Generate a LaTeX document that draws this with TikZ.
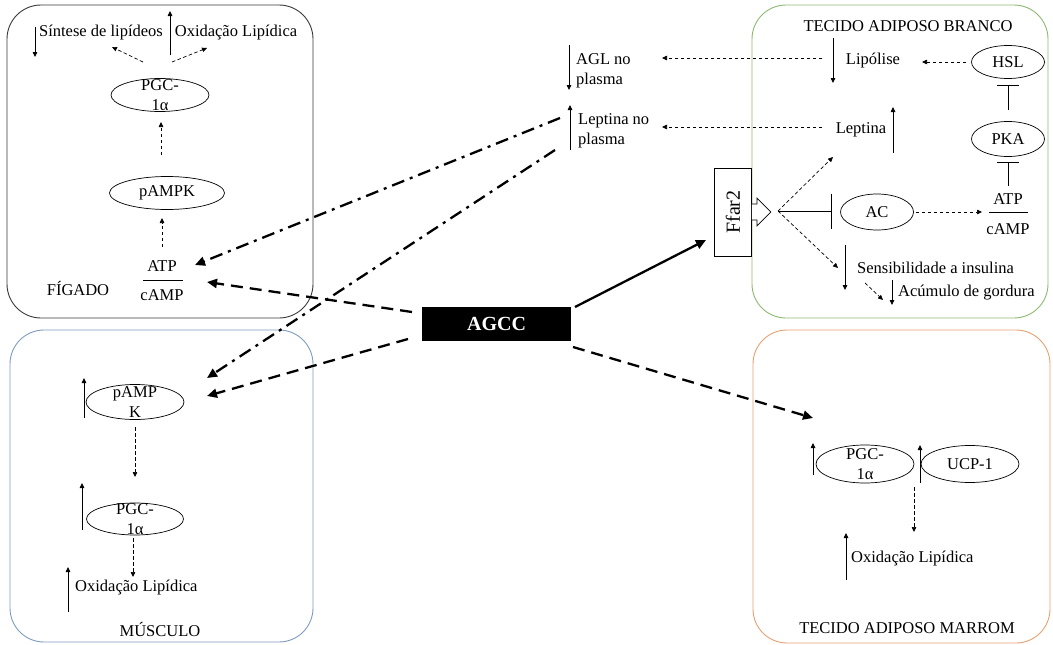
\documentclass[tikz,border=0pt]{standalone}
\usepackage{fontspec}
\setmainfont{Liberation Serif}
\usetikzlibrary{shapes.geometric,arrows.meta}
\definecolor{liverc}{HTML}{3A3A3A}
\definecolor{greenc}{HTML}{8DB870}
\definecolor{bluec}{HTML}{7F9CC0}
\definecolor{orangec}{HTML}{E8A070}
\begin{document}
\begin{tikzpicture}[x=1pt,y=-1pt,
  font=\fontsize{16.5}{20}\selectfont,
  every node/.style={inner sep=1pt},
  organ/.style={draw=#1, line width=0.9pt, rounded corners=34pt, inner sep=0pt},
  ell/.style={ellipse, draw, line width=0.7pt, inner sep=0pt},
  ind/.style={line width=0.8pt, -{Triangle[length=5pt,width=4.5pt]}},
  dsh/.style={line width=0.7pt, dash pattern=on 3.5pt off 2.5pt, -{Triangle[length=5pt,width=4.5pt]}},
  bigdash/.style={line width=2.3pt, dash pattern=on 12pt off 7pt, -{Triangle[length=10pt,width=9pt]}},
  dashdot/.style={line width=2.3pt, dash pattern=on 13pt off 6pt on 3pt off 6pt, -{Triangle[length=10pt,width=9pt]}},
  inhib/.style={line width=0.8pt, -{Bar[width=#1]}},
]
\useasboundingbox (0,0) rectangle (1053,645);

% ---------- organ boxes ----------
\node[organ=liverc, minimum width=306pt, minimum height=313pt] (liver) at (160,161.5) {};
\node[organ=greenc, minimum width=296pt, minimum height=313pt] (wat) at (900,161.5) {};
\node[organ=bluec, minimum width=303pt, minimum height=312pt] (muscle) at (161.5,486) {};
\node[organ=orangec, minimum width=297pt, minimum height=313pt] (bat) at (901.5,486.5) {};

% ---------- liver ----------
\node (sint) at (101,33) {Síntese de lipídeos};
\node (oxL) at (236,33) {Oxidação Lipídica};
\coordinate (sA1) at (35,27); \coordinate (sA2) at (35,57);
\draw[ind] (sA1) -- (sA2);
\coordinate (oA1) at (170,55); \coordinate (oA2) at (170,11);
\draw[ind] (oA1) -- (oA2);
\node[ell, minimum width=98pt, minimum height=33pt] (pgcL) at (160,95) {};
\node[align=center] (pgcLt) at (pgcL) {PGC-\\1α};
\coordinate (pL1) at (143,62); \coordinate (pL2) at (112,47);
\coordinate (pR1) at (172,62); \coordinate (pR2) at (207,48);
\draw[dsh] (pL1) -- (pL2);
\draw[dsh] (pR1) -- (pR2);
\node[ell, minimum width=115pt, minimum height=33pt] (ampkL) at (167,193) {};
\node (ampkLt) at (ampkL) {pAMPK};
\coordinate (aL1) at (161,155); \coordinate (aL2) at (161,122);
\draw[dsh] (aL1) -- (aL2);
\coordinate (tL1) at (162,247); \coordinate (tL2) at (162,218);
\draw[dsh] (tL1) -- (tL2);
\node (atpL) at (162,266) {ATP};
\node (campL) at (162,295) {cAMP};
\coordinate (fL1) at (143,280); \coordinate (fL2) at (183,280);
\draw[line width=0.8pt] (fL1) -- (fL2);
\node (figado) at (78,288) {FÍGADO};

% ---------- plasma ----------
\coordinate (gA1) at (569,45); \coordinate (gA2) at (569,90);
\draw[ind] (gA1) -- (gA2);
\node[align=left, anchor=west] (agl) at (575,71) {AGL no\\plasma};
\coordinate (lA1) at (570,150); \coordinate (lA2) at (570,105);
\draw[ind] (lA1) -- (lA2);
\node[align=left, anchor=west] (lepp) at (577,131) {Leptina no\\plasma};

% ---------- white adipose ----------
\node (watt) at (908,26) {TECIDO ADIPOSO BRANCO};
\coordinate (liA1) at (833,38); \coordinate (liA2) at (833,83);
\draw[ind] (liA1) -- (liA2);
\node (lip) at (873,61) {Lipólise};
\node[ell, minimum width=73pt, minimum height=33pt] (hsl) at (1008,62) {};
\node (hslt) at (hsl) {HSL};
\node[ell, minimum width=73pt, minimum height=35pt] (pka) at (1008,139) {};
\node (pkat) at (pka) {PKA};
\coordinate (hslW) at (966,62); \coordinate (lipE) at (922,62);
\draw[dsh] (hslW) -- (lipE);
\coordinate (ti1) at (1008,110); \coordinate (ti2) at (1008,85);
\draw[inhib=22pt] (ti1) -- (ti2);
\coordinate (ti3) at (1008,186); \coordinate (ti4) at (1008,162);
\draw[inhib=22pt] (ti3) -- (ti4);
\node (atpW) at (1008,199) {ATP};
\node (campW) at (1008,229) {cAMP};
\coordinate (fW1) at (989,212); \coordinate (fW2) at (1028,212);
\draw[line width=0.8pt] (fW1) -- (fW2);
\node (lept) at (861,130) {Leptina};
\coordinate (leA1) at (893,153); \coordinate (leA2) at (893,107);
\draw[ind] (leA1) -- (leA2);
\coordinate (lipL) at (822,58); \coordinate (aglR) at (662,58);
\draw[dsh] (lipL) -- (aglR);
\coordinate (lepL) at (822,127); \coordinate (leppR) at (662,127);
\draw[dsh] (lepL) -- (leppR);

% Ffar2 receptor
\node[draw, line width=0.8pt, fill=white, minimum width=37pt, minimum height=88pt, inner sep=0pt] (ffar) at (733,212) {};
\node[rotate=90, font=\fontsize{20}{22}\selectfont] (ffart) at (ffar) {Ffar2};
\draw[line width=0.8pt, fill=white] (ffar.east) ++(0,-8) -- ++(5,0) -- ++(0,-6) -- ++(14,14)
  -- ++(-14,14) -- ++(0,-6) -- ++(-5,0);
\coordinate (hub) at (778,211);
\coordinate (hubU) at (833,157);
\coordinate (hubD) at (838,268);
\coordinate (hubT) at (832,211);
\draw[dsh] (hub) -- (hubU);
\draw[dsh] (hub) -- (hubD);
\draw[inhib=35pt] (hub) -- (hubT);
\node[ell, minimum width=73pt, minimum height=36pt] (ac) at (877,212) {};
\node (act) at (ac) {AC};
\coordinate (acE) at (982,212);
\draw[dsh, shorten <=2pt] (ac.east) -- (acE);
\coordinate (siA1) at (845,245); \coordinate (siA2) at (845,290);
\draw[ind] (siA1) -- (siA2);
\node[anchor=west] (sens) at (856,268) {Sensibilidade a insulina};
\coordinate (sg1) at (865,283); \coordinate (sg2) at (883,300);
\draw[dsh] (sg1) -- (sg2);
\coordinate (gdA1) at (892,280); \coordinate (gdA2) at (892,305);
\draw[ind] (gdA1) -- (gdA2);
\node[anchor=west] (acum) at (897,293) {Acúmulo de gordura};

% ---------- muscle ----------
\node[ell, minimum width=98pt, minimum height=35pt] (ampkM) at (135,402) {};
\node[align=center] (ampkMt) at (ampkM) {pAMP\\K};
\coordinate (mA1) at (84,418); \coordinate (mA2) at (84,378);
\draw[ind] (mA1) -- (mA2);
\coordinate (mD1) at (135,427); \coordinate (mD2) at (135,477);
\draw[dsh] (mD1) -- (mD2);
\node[ell, minimum width=97pt, minimum height=32pt] (pgcM) at (135,519) {};
\node[align=center] (pgcMt) at (pgcM) {PGC-\\1α};
\coordinate (mB1) at (82,530); \coordinate (mB2) at (82,483);
\draw[ind] (mB1) -- (mB2);
\coordinate (mE1) at (133,538); \coordinate (mE2) at (133,577);
\draw[dsh] (mE1) -- (mE2);
\coordinate (mC1) at (68,612); \coordinate (mC2) at (68,567);
\draw[ind] (mC1) -- (mC2);
\node[anchor=west] (oxM) at (74,588) {Oxidação Lipídica};
\node (musc) at (160,629) {MÚSCULO};

% ---------- brown adipose ----------
\node[ell, minimum width=98pt, minimum height=38pt] (pgcB) at (865,464) {};
\node[align=center] (pgcBt) at (pgcB) {PGC-\\1α};
\node[ell, minimum width=98pt, minimum height=37pt] (ucp) at (970,464) {};
\node (ucpt) at (ucp) {UCP-1};
\coordinate (bA1) at (813,475); \coordinate (bA2) at (813,443);
\draw[ind] (bA1) -- (bA2);
\coordinate (bB1) at (920,483); \coordinate (bB2) at (920,445);
\draw[ind] (bB1) -- (bB2);
\coordinate (bD1) at (914,487); \coordinate (bD2) at (914,532);
\draw[dsh] (bD1) -- (bD2);
\coordinate (bC1) at (846,580); \coordinate (bC2) at (846,533);
\draw[ind] (bC1) -- (bC2);
\node[anchor=west] (oxB) at (850,559) {Oxidação Lipídica};
\node (batt) at (907,628) {TECIDO ADIPOSO MARROM};

% ---------- AGCC ----------
\node[fill=black, minimum width=149pt, minimum height=34pt, inner sep=0pt, text=white,
      font=\fontsize{20}{22}\selectfont\bfseries] (agcc) at (496.5,324) {AGCC};
\coordinate (gS1) at (575,307); \coordinate (ffarIn) at (706,240);
\draw[line width=2.3pt, -{Triangle[length=10pt,width=9pt]}] (gS1) -- (ffarIn);
\coordinate (gS2) at (412,312); \coordinate (atpIn) at (207,282);
\draw[bigdash] (gS2) -- (atpIn);
\coordinate (gS3) at (408,339); \coordinate (mIn) at (207,396);
\draw[bigdash] (gS3) -- (mIn);
\coordinate (gS4) at (573,347); \coordinate (bIn) at (813,418);
\draw[bigdash] (gS4) -- (bIn);
\coordinate (lS1) at (560,118); \coordinate (atpIn2) at (195,265);
\draw[dashdot] (lS1) -- (atpIn2);
\coordinate (lS2) at (555,150); \coordinate (mIn2) at (207,378);
\draw[dashdot] (lS2) -- (mIn2);
\end{tikzpicture}
\end{document}
